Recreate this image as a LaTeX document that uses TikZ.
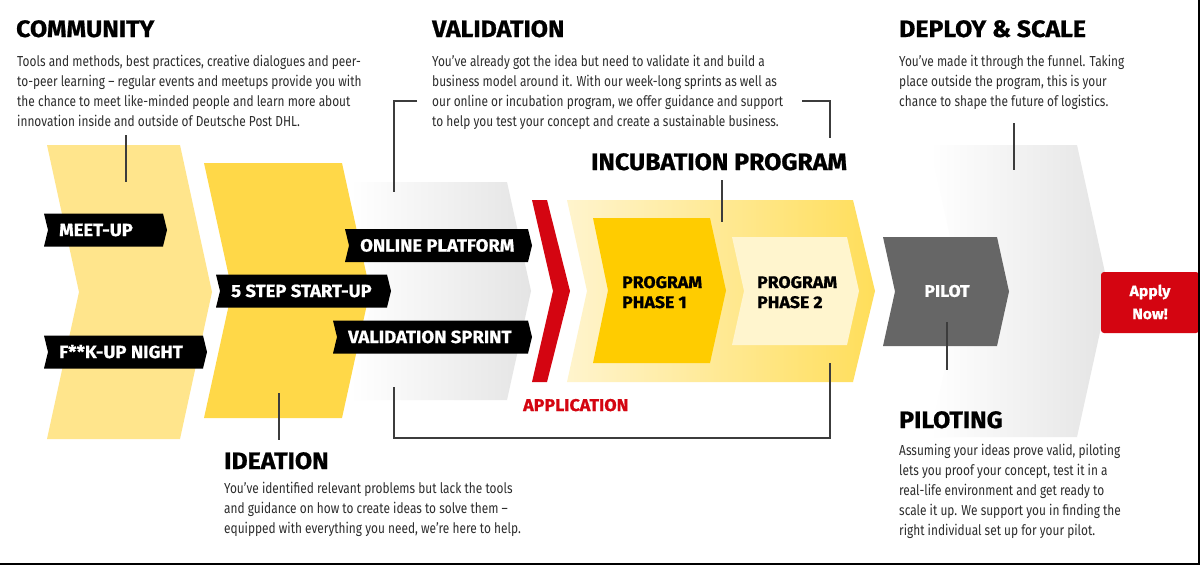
\documentclass[tikz,border=0pt]{standalone}
\usepackage{fontspec}
\setmainfont{Fira Sans}
\newfontfamily\bodyf{Fira Sans}[FakeStretch=0.82]
\newfontfamily\headf{Fira Sans}[FakeStretch=1.05, BoldFeatures={FakeBold=0.8}]
\definecolor{comm}{RGB}{255,229,140}
\definecolor{idea}{RGB}{255,216,72}
\definecolor{dhlred}{RGB}{212,5,17}
\definecolor{ph1}{RGB}{255,204,0}
\definecolor{ph2}{RGB}{255,245,206}
\definecolor{incl}{RGB}{255,244,205}
\definecolor{incr}{RGB}{255,222,90}
\definecolor{vgray}{RGB}{228,228,228}
\definecolor{pilotg}{RGB}{102,102,102}
\definecolor{bodyc}{RGB}{45,45,45}
\definecolor{linec}{RGB}{60,60,60}
\newcommand\chev[7]{\path[#1] (#2,#4) -- (#3,#4) -- ({#3+#7},{(#4+#5)/2}) -- (#3,#5) -- (#2,#5) -- ({#2+#6},{(#4+#5)/2}) -- cycle;}
\newcommand\tagb[5]{%
  \fill[black] (#2,{#4-16.5}) -- (#3,{#4-16.5}) -- ({#3+4},#4) -- (#3,{#4+16.5}) -- (#2,{#4+16.5}) -- ({#2+4},#4) -- cycle;
  \node[tagtext] (#1) at ({#2+15},{#4+6}) {#5};}
\newcommand\bodytext[1]{\parbox[t]{420pt}{\bodyf\fontsize{14.5}{20}\selectfont #1}}
\newcommand\plines[2]{\parbox[t]{300pt}{#1 #2}}
\tikzset{
  head/.style={anchor=base west, inner sep=0, font=\headf\bfseries\fontsize{23.7}{26}\selectfont},
  body/.style={anchor=base west, inner sep=0, text=bodyc},
  tagtext/.style={anchor=base west, inner sep=0, text=white, font=\headf\bfseries\fontsize{17.6}{20}\selectfont},
  lead/.style={draw=linec, line width=1.3},
}
\begin{document}
\begin{tikzpicture}[x=1pt,y=-1pt]
\useasboundingbox (0,0) rectangle (1200,565);
\fill[white] (0,0) rectangle (1200,565);
% chevrons
\chev{left color=white,right color=vgray}{350}{507}{182}{400}{24}{24}
\chev{fill=idea}{204}{342}{163}{418}{28}{28}
\chev{fill=comm}{47}{180}{145}{439}{32}{32}
\chev{fill=dhlred}{532}{547}{200}{382}{21}{23}
\chev{left color=incl,right color=incr}{567}{853}{200}{382}{20}{22}
\chev{fill=ph1}{593}{710}{218}{363}{15}{16}
\chev{fill=ph2}{732}{847}{237}{345}{12}{12}
\chev{left color=white,right color=vgray}{930}{1077}{145}{437}{32}{32}
\chev{fill=pilotg}{883}{997}{237}{346}{12}{12}
\fill[dhlred, rounded corners=3] (1101,272) rectangle (1199,333);
% tags
\tagb{meetup}{44}{163}{230}{MEET-UP}
\tagb{fuckup}{44}{203}{352}{F**K-UP NIGHT}
\tagb{fivestep}{216}{387}{291}{5 STEP START-UP}
\tagb{online}{345}{528}{245.5}{ONLINE PLATFORM}
\tagb{vsprint}{333}{528}{337}{VALIDATION SPRINT}
% inner labels
\node[anchor=base west, inner sep=0] (ph1t) at (622,288) {\plines{\headf\bfseries\fontsize{16.8}{20}\selectfont}{PROGRAM\\PHASE 1}};
\node[anchor=base west, inner sep=0] (ph2t) at (757,288) {\plines{\headf\bfseries\fontsize{16.8}{20}\selectfont}{PROGRAM\\PHASE 2}};
\node[inner sep=0, text=white, font=\headf\bfseries\fontsize{16.8}{20}\selectfont] (pilot) at (947,291) {PILOT};
\node[inner sep=0, text=white, font=\headf\bfseries\fontsize{15}{23}\selectfont, align=center] (apply) at (1150,302) {Apply\\Now!};
\node[anchor=base west, inner sep=0, text=dhlred, font=\headf\bfseries\fontsize{17}{20}\selectfont] (appl) at (523,411) {APPLICATION};
% headings
\node[head] (hcomm) at (16,37) {COMMUNITY};
\node[head] (hval) at (432,37) {VALIDATION};
\node[head] (hdep) at (899,37) {DEPLOY \& SCALE};
\node[head] (hinc) at (591,170) {INCUBATION PROGRAM};
\node[head] (hide) at (224,469) {IDEATION};
\node[head] (hpil) at (899,428) {PILOTING};
% body texts
\node[body] (bcomm) at (17,66) {\bodytext{Tools and methods, best practices, creative dialogues and peer-\\to-peer learning – regular events and meetups provide you with\\the chance to meet like-minded people and learn more about\\innovation inside and outside of Deutsche Post DHL.}};
\node[body] (bval) at (432,66) {\bodytext{You’ve already got the idea but need to validate it and build a\\business model around it. With our week-long sprints as well as\\our online or incubation program, we offer guidance and support\\to help you test your concept and create a sustainable business.}};
\node[body] (bdep) at (899,66) {\bodytext{You’ve made it through the funnel. Taking\\place outside the program, this is your\\chance to shape the future of logistics.}};
\node[body] (bide) at (224,493) {\bodytext{You’ve identified relevant problems but lack the tools\\and guidance on how to create ideas to solve them –\\equipped with everything you need, we’re here to help.}};
\node[body] (bpil) at (899,455) {\bodytext{Assuming your ideas prove valid, piloting\\lets you proof your concept, test it in a\\real-life environment and get ready to\\scale it up. We support you in finding the\\right individual set up for your pilot.}};
% leader lines
\coordinate (l1a) at (126,135); \coordinate (l1b) at (126,182);
\coordinate (l2a) at (279,393); \coordinate (l2b) at (279,440);
\coordinate (l3a) at (417,101); \coordinate (l3b) at (394,192);
\coordinate (l4a) at (802,101); \coordinate (l4b) at (830,138);
\coordinate (l5a) at (394,387); \coordinate (l5b) at (830,363);
\coordinate (l6a) at (722,180); \coordinate (l6b) at (722,222);
\coordinate (l7a) at (1014,123); \coordinate (l7b) at (1014,170);
\coordinate (l8a) at (947,322); \coordinate (l8b) at (947,370);
\draw[lead] (l1a) -- (l1b);
\draw[lead] (l2a) -- (l2b);
\draw[lead] (l3a) -| (l3b);
\draw[lead] (l4a) -| (l4b);
\draw[lead] (l5a) |- (830,438) -- (l5b);
\draw[lead] (l6a) -- (l6b);
\draw[lead] (l7a) -- (l7b);
\draw[lead] (l8a) -- (l8b);
% frame
\draw[line width=1.5] (1199,0) -- (1199,564) -- (0,564);
\end{tikzpicture}
\end{document}
